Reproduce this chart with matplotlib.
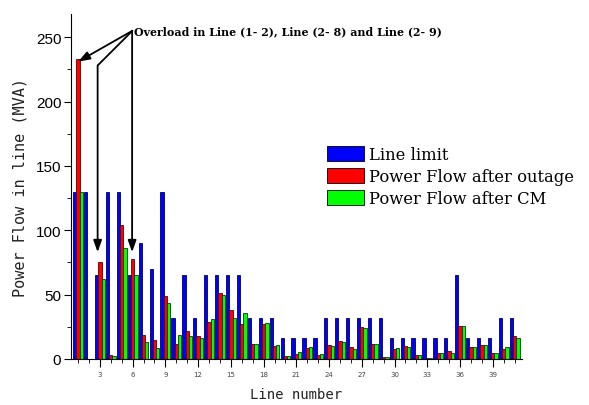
import numpy as np
import matplotlib
matplotlib.use("Agg")
import matplotlib.pyplot as plt
from matplotlib.ticker import MultipleLocator

lines = list(range(1, 42))
line_limit = [130, 130, 65, 130, 130, 65, 90, 70, 130, 32, 65, 32, 65, 65, 65, 65,
              32, 32, 32, 16, 16, 16, 16, 32, 32, 32, 32, 32, 32, 16, 16, 16, 16,
              16, 16, 65, 16, 16, 16, 32, 32]
flow_outage = [233, 0, 75, 3, 104, 78, 18.5, 14.5, 49, 12, 21.5, 17.5, 29, 51, 38, 27,
               11.5, 27, 10, 2, 4, 8.3, 3.4, 10.6, 14, 9, 24.5, 12, 1.8, 7.7, 9.8, 3,
               0.8, 5, 6, 26, 9.3, 10.6, 5, 7.7, 18]
flow_cm = [130, 0, 62.5, 2.6, 86, 65, 13.2, 8.5, 43.5, 18.6, 18, 16, 31, 50, 31.5, 36,
           11.5, 28, 10.8, 2, 5.4, 9, 3.9, 10, 13.4, 7.5, 24.3, 11.6, 1.8, 8.5, 9.5, 3.4,
           0.5, 5, 5, 25.3, 9.3, 10.6, 5, 9, 16]
series_names = ["Line limit", "Power Flow after outage", "Power Flow after CM"]
xtick_vals = list(range(3, 40, 3))
annot_text = "Overload in Line (1- 2), Line (2- 8) and Line (2- 9)"

fig = plt.figure(figsize=(5.89, 4.06), dpi=100)
ax = fig.add_axes([71/589, 46/406, (521.7-71)/589, (406-46-15)/406])

x = np.array(lines)
w = 0.3
ax.bar(x - w, line_limit, w, color="#0000FF", edgecolor="#00005a", linewidth=0.6, label=series_names[0])
ax.bar(x, flow_outage, w, color="#FF0000", edgecolor="#5a0000", linewidth=0.6, label=series_names[1])
ax.bar(x + w, flow_cm, w, color="#00FF00", edgecolor="#004000", linewidth=0.6, label=series_names[2])

ax.set_xlim(0.35, 41.65)
ax.set_ylim(0, 268)
ax.spines["top"].set_visible(False)
ax.spines["right"].set_visible(False)
ax.yaxis.set_major_locator(MultipleLocator(50))
ax.yaxis.set_minor_locator(MultipleLocator(25))
ax.set_xticks(xtick_vals)
ax.xaxis.set_minor_locator(MultipleLocator(1))
ax.tick_params(axis="x", which="major", direction="out", length=6, labelsize=5, pad=3, labelcolor="#444444")
ax.tick_params(axis="x", which="minor", direction="out", length=3)
ax.tick_params(axis="y", which="major", direction="out", length=5, labelsize=11, pad=2)
ax.tick_params(axis="y", which="minor", direction="out", length=3)
for lab in ax.get_yticklabels():
    lab.set_fontfamily("Liberation Sans")

ax.set_xlabel("Line number", fontfamily="DejaVu Sans Mono", fontsize=10, labelpad=7,
              color="#222222")
ax.set_ylabel("Power Flow in line (MVA)", fontfamily="DejaVu Sans Mono", fontsize=11,
              labelpad=6, color="#222222")

leg = fig.legend(loc="upper left", bbox_to_anchor=(327/589, 1-147/406), frameon=False,
                 prop={"family": "DejaVu Serif", "size": 11.8}, handlelength=2.25,
                 handleheight=1.05, handletextpad=0.3, labelspacing=0.3,
                 borderpad=0, borderaxespad=0)
for p in leg.get_patches():
    p.set_edgecolor("black")

# annotation arrows
tail = (5.98, 255)
ax.text(6.15, 255, annot_text, fontfamily="DejaVu Serif", fontsize=7.9,
        fontweight="bold", ha="left", va="center")
ap = dict(arrowstyle="-|>,head_length=0.7,head_width=0.25", color="black", lw=1.3,
          shrinkA=0, shrinkB=0)
ax.annotate("", xy=(1.0, 231), xytext=tail, arrowprops=ap)
ax.plot([tail[0], 2.79], [tail[1], 228], color="black", lw=1.3, solid_capstyle="butt")
ax.annotate("", xy=(2.79, 83), xytext=(2.79, 228), arrowprops=ap)
ax.annotate("", xy=(5.95, 83), xytext=(5.95, tail[1]), arrowprops=ap)

fig.savefig("out.png", dpi=100)
